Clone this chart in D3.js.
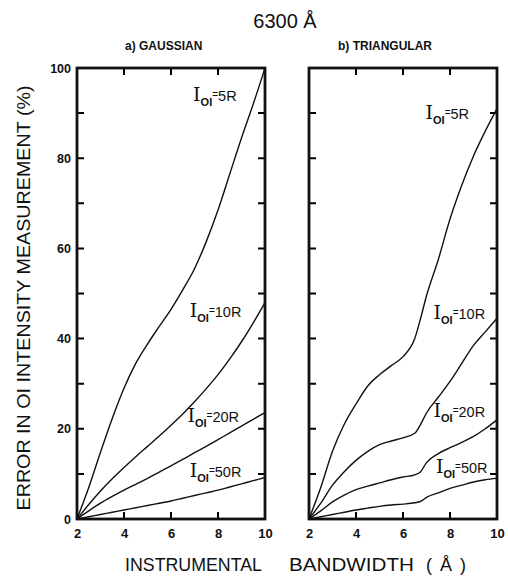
<!DOCTYPE html>
<html>
<head>
<meta charset="utf-8">
<script src="https://cdn.jsdelivr.net/npm/d3@7"></script>
<style>
  body { margin: 0; background: #fff; }
  svg text { fill: #111; }
</style>
</head>
<body>
<div class="vis-chart"></div>
<script>
// bandwidth grid (Å) for each panel
const bandwidthGauss = [2, 2.5, 3, 3.5, 4, 4.5, 5, 5.5, 6, 6.5, 7, 7.5, 8, 8.5, 9, 9.5, 10];
const bandwidthTri = [2, 2.5, 3, 3.5, 4, 4.5, 5, 5.5, 6, 6.5, 6.75, 7, 7.5, 8, 8.5, 9, 9.5, 10];

// error (%) - gaussian
const gauss5R = [0, 7, 14.8, 22.3, 29, 34.5, 38.8, 42.7, 46.5, 50.8, 55.5, 61.5, 68.5, 76.5, 84.5, 92, 100];
const gauss10R = [0, 3.2, 6.2, 8.9, 11.4, 13.8, 16.1, 18.4, 20.8, 23.3, 26, 28.9, 32, 35.5, 39.3, 43.5, 48];
const gauss20R = [0, 1.8, 3.5, 5, 6.4, 7.7, 9, 10.4, 11.8, 13.2, 14.7, 16.1, 17.6, 19.1, 20.6, 22.1, 23.6];
const gauss50R = [0, 0.5, 1, 1.5, 2, 2.5, 3, 3.5, 4, 4.6, 5.2, 5.8, 6.4, 7.1, 7.8, 8.5, 9.2];

// error (%) - triangular
const tri5R = [0, 7, 15, 21, 25.5, 29.5, 32, 34, 36, 40, 44.5, 49.5, 57.5, 66.5, 74, 80.5, 86, 91];
const tri10R = [0, 3.5, 7.5, 10.5, 13, 15, 16.5, 17.3, 18, 19, 21, 23.5, 27, 30.5, 34.5, 38.5, 41.5, 44.5];
const tri20R = [0, 1.8, 3.8, 5.3, 6.5, 7.3, 8, 8.7, 9.3, 9.8, 10.5, 12.5, 14.5, 15.8, 17, 18.3, 20, 22];
const tri50R = [0, 0.5, 1, 1.5, 2, 2.4, 2.8, 3.1, 3.3, 3.6, 3.9, 4.8, 5.8, 6.8, 7.5, 8.2, 8.7, 9];

const seriesNames = ["5R", "10R", "20R", "50R"];
const xTicks = [2, 4, 6, 8, 10];
const yTicks = [0, 10, 20, 30, 40, 50, 60, 70, 80, 90, 100];
const yLabelTicks = [0, 20, 40, 60, 80, 100];

const W = 508, H = 579;
const plotTop = 68, plotBottom = 519;
const tickLen = 7;

const svg = d3.select(".vis-chart").append("svg")
  .attr("width", W).attr("height", H)
  .style("font-family", "'Liberation Sans', Arial, sans-serif");

const panels = [
  { title: "a) GAUSSIAN", titleX: 125, left: 77, right: 265, xs: bandwidthGauss,
    series: [gauss5R, gauss10R, gauss20R, gauss50R],
    // label anchor (data units)
    labelPos: [[6.94, 92.7], [6.8, 44.8], [6.7, 21.5], [6.8, 9.3]], yLabels: true },
  { title: "b) TRIANGULAR", titleX: 338, left: 309, right: 497, xs: bandwidthTri,
    series: [tri5R, tri10R, tri20R, tri50R],
    labelPos: [[6.96, 88.7], [7.3, 44.3], [7.3, 22.6], [7.4, 10.2]], yLabels: false }
];

// title
svg.append("text")
  .attr("x", 285).attr("y", 28)
  .attr("text-anchor", "middle")
  .style("font-size", "20px")
  .text("6300 Å");

panels.forEach(function (p) {
  let x = d3.scaleLinear().domain([2, 10]).range([p.left, p.right]);
  let y = d3.scaleLinear().domain([0, 100]).range([plotBottom, plotTop]);
  let g = svg.append("g");

  g.append("text")
    .attr("x", p.titleX).attr("y", 50)
    .style("font-size", "12px").style("font-weight", "bold")
    .text(p.title);

  // x tick labels
  let bx = g.append("g")
    .attr("transform", "translate(0," + plotBottom + ")")
    .call(d3.axisBottom(x).tickValues(xTicks).tickSize(0).tickPadding(10));
  bx.selectAll("text").style("font-size", "13px").style("font-weight", "bold").attr("fill", "#111");

  if (p.yLabels) {
    let ly = g.append("g")
      .attr("transform", "translate(" + p.left + ",0)")
      .call(d3.axisLeft(y).tickValues(yLabelTicks).tickSize(0).tickPadding(6));
    ly.selectAll("text").style("font-size", "12.5px").style("font-weight", "bold").attr("fill", "#111");
  }
  g.selectAll(".domain").remove();

  // inward tick marks on all four sides
  let tickPath = "";
  xTicks.slice(1, -1).forEach(function (d) {
    tickPath += "M" + x(d) + "," + plotTop + "v" + tickLen;
    tickPath += "M" + x(d) + "," + plotBottom + "v" + (-tickLen);
  });
  yTicks.slice(1, -1).forEach(function (d) {
    tickPath += "M" + p.left + "," + y(d) + "h" + tickLen;
    tickPath += "M" + p.right + "," + y(d) + "h" + (-tickLen);
  });
  g.append("path")
    .attr("d", tickPath)
    .style("fill", "none")
    .style("stroke", "#000")
    .style("stroke-width", "2px");

  // frame
  g.append("rect")
    .attr("x", p.left).attr("y", plotTop)
    .attr("width", p.right - p.left).attr("height", plotBottom - plotTop)
    .attr("fill", "none").attr("stroke", "#111").attr("stroke-width", 2.8);

  let line = d3.line()
    .x(function (d, i) { return x(p.xs[i]); })
    .y(function (d) { return y(d); })
    .curve(d3.curveMonotoneX);

  p.series.forEach(function (s, k) {
    g.append("path")
      .datum(s)
      .attr("fill", "none")
      .attr("stroke", "#111")
      .attr("stroke-width", 1.4)
      .attr("d", line);

    let lp = p.labelPos[k];
    let t = g.append("text")
      .attr("x", x(lp[0])).attr("y", y(lp[1]));
    t.append("tspan")
      .style("font-family", "'DejaVu Serif', serif")
      .style("font-size", "19px")
      .text("I");
    t.append("tspan")
      .attr("dy", 5)
      .style("font-size", "11px").style("font-weight", "bold")
      .text("OI");
    t.append("tspan")
      .attr("dy", -8)
      .style("font-size", "10px")
      .text("=");
    t.append("tspan")
      .attr("dy", 3)
      .style("font-size", "14.5px")
      .text(seriesNames[k]);
  });
});

// axis titles
svg.append("text")
  .attr("transform", "translate(30,298) rotate(-90)")
  .attr("text-anchor", "middle")
  .attr("textLength", 425)
  .attr("lengthAdjust", "spacingAndGlyphs")
  .style("font-size", "18px")
  .text("ERROR IN OI INTENSITY MEASUREMENT  (%)");

const xTitleParts = [["INSTRUMENTAL", 125, 137, "spacingAndGlyphs"], ["BANDWIDTH", 289, 125, "spacingAndGlyphs"], ["(Å)", 426, 40, "spacing"]];
xTitleParts.forEach(function (d) {
  svg.append("text")
    .attr("x", d[1]).attr("y", 571)
    .attr("textLength", d[2])
    .attr("lengthAdjust", d[3])
    .style("font-size", "18px")
    .text(d[0]);
});
</script>
</body>
</html>
